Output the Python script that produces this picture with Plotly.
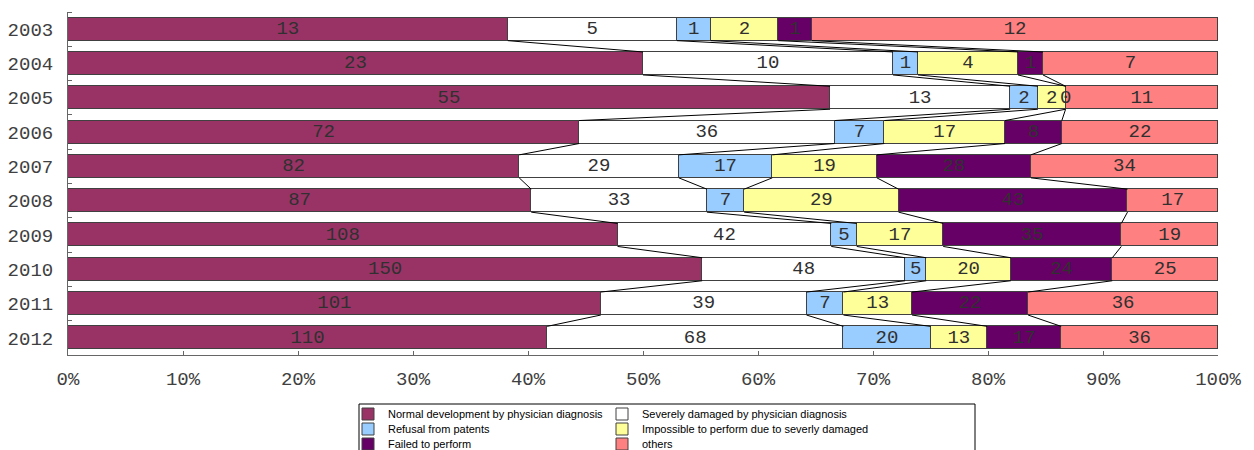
import plotly.graph_objects as go

years = ["2003", "2004", "2005", "2006", "2007", "2008", "2009", "2010", "2011", "2012"]
series_names = [
    "Normal development by physician diagnosis",
    "Severely damaged by physician diagnosis",
    "Refusal from patents",
    "Impossible to perform due to severly damaged",
    "Failed to perform",
    "others",
]
normal = [13, 23, 55, 72, 82, 87, 108, 150, 101, 110]
severe = [5, 10, 13, 36, 29, 33, 42, 48, 39, 68]
refusal = [1, 1, 2, 7, 17, 7, 5, 5, 7, 20]
impossible = [2, 4, 2, 17, 19, 29, 17, 20, 13, 13]
failed = [1, 1, 0, 8, 28, 43, 35, 24, 22, 17]
others = [12, 7, 11, 22, 34, 17, 19, 25, 36, 36]
x_ticks = list(range(0, 101, 10))
x_ticktext = [f"{t}%" for t in x_ticks]

series = [normal, severe, refusal, impossible, failed, others]
colors = ["#993366", "#FFFFFF", "#99CCFF", "#FFFF99", "#660066", "#FF8080"]
legend_ids = ["legend", "legend2", "legend3", "legend4", "legend5", "legend6"]

# page body has an 8px margin; figure is sized/offset to compensate
OFF = 8
W, H = 1254 - OFF, 450 - OFF
ML, MR, MT, MB = 68 - OFF, 36, 12 - OFF, 95
PW, PH = W - ML - MR, H - MT - MB
BAR_W = 0.67
MONO = "Courier New, Liberation Mono, monospace"

ypos = list(range(len(years)))
totals = [sum(s[i] for s in series) for i in range(len(years))]
pct = [[s[i] / totals[i] * 100 for i in range(len(years))] for s in series]

fig = go.Figure()
for k, name in enumerate(series_names):
    fig.add_trace(go.Bar(
        y=ypos, x=pct[k], orientation="h", name=name,
        marker=dict(color=colors[k], line=dict(color="#404040", width=1)),
        width=BAR_W, legend=legend_ids[k], hoverinfo="skip",
    ))

# cumulative boundaries
cum = []
for i in range(len(years)):
    c, row = 0, []
    for k in range(len(series)):
        c += pct[k][i]
        row.append(c)
    cum.append(row)

# data labels
lx, ly, lt = [], [], []
for i in range(len(years)):
    start = 0
    for k in range(len(series)):
        end = cum[i][k]
        lx.append((start + end) / 2)
        ly.append(i)
        lt.append(str(series[k][i]))
        start = end
fig.add_trace(go.Scatter(
    x=lx, y=ly, text=lt, mode="text", showlegend=False, hoverinfo="skip",
    textfont=dict(family=MONO, size=19, color="#303030"),
))

# series lines
sx, sy = [], []
h = BAR_W / 2
for i in range(len(years) - 1):
    for k in range(len(series) - 1):
        sx += [cum[i][k], cum[i + 1][k], None]
        sy += [i + h, i + 1 - h, None]
fig.add_trace(go.Scatter(
    x=sx, y=sy, mode="lines", line=dict(color="#000000", width=1),
    showlegend=False, hoverinfo="skip",
))

# screen-pixel -> paper helpers
def py(p):
    return (355 - p) / PH

def px(p):
    return (p - 68) / PW

leg_common = dict(
    orientation="h", xanchor="left", yanchor="middle",
    bgcolor="rgba(0,0,0,0)", borderwidth=0,
    font=dict(family="Liberation Sans, Arial", size=11, color="#000000"),
    itemwidth=30,
)
col_x = [px(348), px(602)]
row_y = [py(414), py(429), py(444)]
legends = {}
for k, lid in enumerate(legend_ids):
    legends[lid] = dict(leg_common, x=col_x[k % 2], y=row_y[k // 2])

fig.update_layout(
    width=W, height=H,
    margin=dict(l=ML, r=MR, t=MT, b=MB, autoexpand=False),
    paper_bgcolor="white", plot_bgcolor="white",
    barmode="stack", bargap=0,
    xaxis=dict(
        range=[0, 100], tickvals=x_ticks, ticktext=x_ticktext,
        ticks="inside", ticklen=4, tickcolor="#666666",
        showline=True, linecolor="#666666", linewidth=1, showgrid=False, zeroline=False,
        tickfont=dict(family=MONO, size=19, color="#404040"),
        ticklabelstandoff=6, fixedrange=True,
    ),
    yaxis=dict(
        range=[len(years) - 0.5, -0.5], tickvals=ypos, ticktext=years,
        ticks="", showline=True, linecolor="#666666", linewidth=1,
        showgrid=False, zeroline=False,
        tickfont=dict(family=MONO, size=19, color="#404040"),
        ticklabelstandoff=10,
        minor=dict(ticks="inside", ticklen=4, tickcolor="#666666", tick0=-0.5, dtick=1),
        fixedrange=True,
    ),
    showlegend=True,
    shapes=[dict(type="rect", xref="paper", yref="paper",
                 x0=px(359), x1=px(975), y0=py(404), y1=py(462),
                 line=dict(color="#000000", width=1), fillcolor="rgba(0,0,0,0)")],
    **legends,
)

fig.write_html("out.html")
